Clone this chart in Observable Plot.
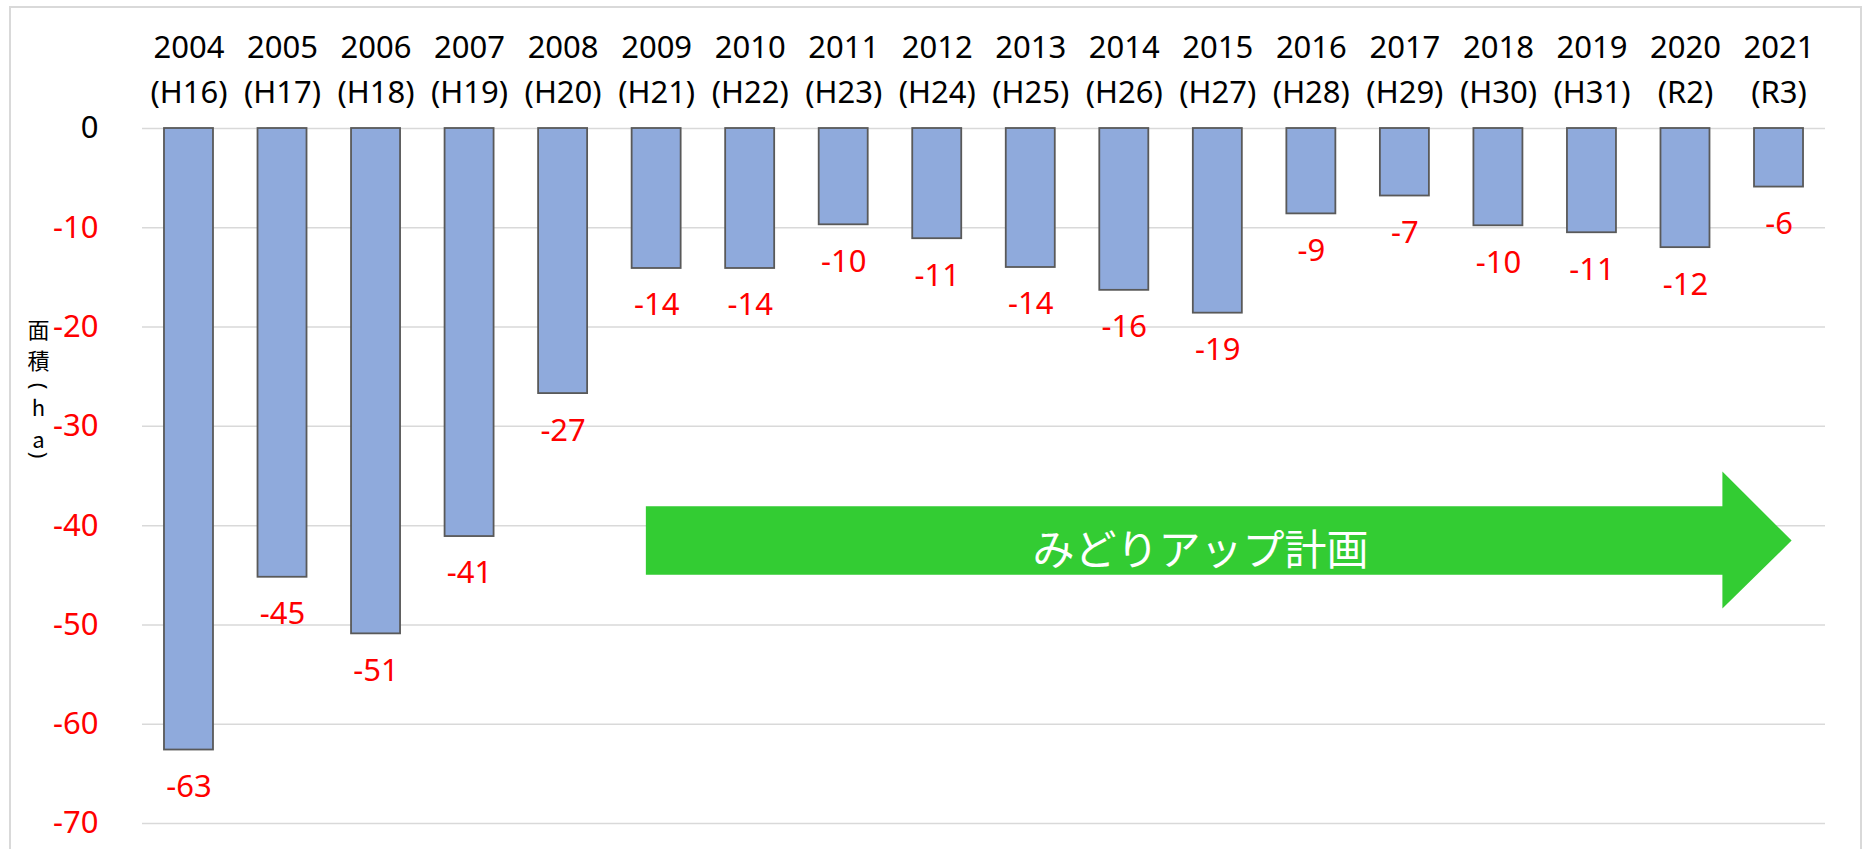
<!DOCTYPE html>
<html><head><meta charset="utf-8">
<script src="https://cdn.jsdelivr.net/npm/d3@7"></script>
<script src="https://cdn.jsdelivr.net/npm/@observablehq/plot@0.6"></script>
<style>
body{margin:0;background:#fff;}
#wrap{position:relative;width:1863px;height:849px;overflow:hidden;}
#border{position:absolute;left:9px;top:6px;width:1853px;height:900px;border:2px solid #d9d9d9;box-sizing:border-box;pointer-events:none;}
</style></head><body><div id="wrap"><div id="border"></div></div>
<script>
const years = ["2004","2005","2006","2007","2008","2009","2010","2011","2012","2013","2014","2015","2016","2017","2018","2019","2020","2021"];
const eras = ["H16","H17","H18","H19","H20","H21","H22","H23","H24","H25","H26","H27","H28","H29","H30","H31","R2","R3"];
const values = [-62.6,-45.2,-50.9,-41.1,-26.7,-14.1,-14.1,-9.7,-11.1,-14.0,-16.3,-18.6,-8.6,-6.8,-9.8,-10.5,-12.0,-5.9];
const labels = [-63,-45,-51,-41,-27,-14,-14,-10,-11,-14,-16,-19,-9,-7,-10,-11,-12,-6];
const yTicks = [0,-10,-20,-30,-40,-50,-60,-70];
const yTitleParts = ["面", "積", "(", "h", "a", ")"];
const arrowLabel = "みどりアップ計画";

const data = years.map((y, i) => ({year: y, era: eras[i], value: values[i], label: labels[i]}));
const eraOf = Object.fromEntries(years.map((y, i) => [y, eras[i]]));
const FONT = "'Noto Sans', 'Noto Sans CJK JP', sans-serif";

function arrowMark(index, scales) {
  const x = scales.x, y = scales.y;
  const step = x.step(), bw = x.bandwidth();
  const cx = i => x(years[0]) + bw / 2 + i * step;
  // arrow geometry in band-index / data units
  const xs = cx(4.89), xb = cx(16.40), xt = cx(17.14);
  const b1 = y(-38.1), b2 = y(-45.0), h1 = y(-34.6), h2 = y(-48.4), ty = y(-41.55);
  const g = d3.create("svg:g");
  g.append("polygon")
    .attr("points", [[xs,b1],[xb,b1],[xb,h1],[xt,ty],[xb,h2],[xb,b2],[xs,b2]].map(p => p.join(",")).join(" "))
    .attr("fill", "#33CC33");
  g.append("text")
    .attr("x", cx(10.82)).attr("y", ty + 6)
    .attr("text-anchor", "middle").attr("dominant-baseline", "central")
    .attr("fill", "white").attr("font-size", 42)
    .attr("font-family", "'Noto Sans CJK JP', 'Noto Sans', sans-serif")
    .text(arrowLabel);
  return g.node();
}

// vertical y-axis title: offsets (px) of each glyph from the frame's left-middle anchor
const titleDy = [-145, -114, -90, -67, -35, -21];
const plot = Plot.plot({
  width: 1863,
  height: 849,
  marginLeft: 142,
  marginRight: 38,
  marginTop: 128,
  marginBottom: 26,
  style: {fontFamily: FONT, background: "transparent", overflow: "visible"},
  x: {domain: years, paddingInner: 0.476, paddingOuter: 0.235, round: false, axis: null},
  y: {domain: [-70, 0], axis: null},
  marks: [
    Plot.gridY(yTicks, {stroke: "#d9d9d9", strokeOpacity: 1, strokeWidth: 1.5}),
    Plot.barY(data, {x: "year", y: "value", fill: "#8FAADC", stroke: "#595959", strokeWidth: 1.8}),
    Plot.text(data, {x: "year", y: "value", text: d => String(d.label), dy: 37, fill: "red", fontSize: 31}),
    Plot.axisX({anchor: "top", label: null, tickSize: 0, tickPadding: 26, fontSize: 31, lineHeight: 1.45,
      tickFormat: d => `${d}\n(${eraOf[d]})`, fill: "black"}),
    Plot.text(yTicks, {y: d => d, text: d => String(d), frameAnchor: "left", textAnchor: "end", dx: -44,
      fill: d => d === 0 ? "black" : "red", fontSize: 31}),
    ...yTitleParts.map((ch, i) => {
      const paren = ch === "(" || ch === ")";
      return Plot.text([ch], {frameAnchor: "left", dx: -104, dy: titleDy[i], text: d => d,
        textAnchor: "middle", lineAnchor: "middle", rotate: paren ? 90 : 0,
        fontSize: paren ? 22 : 22, fill: "black",
        fontFamily: paren ? "'Noto Sans', sans-serif" : "'Noto Sans CJK JP', sans-serif"});
    }),
    arrowMark
  ]
});
document.getElementById("wrap").prepend(plot);
</script>
</body></html>
